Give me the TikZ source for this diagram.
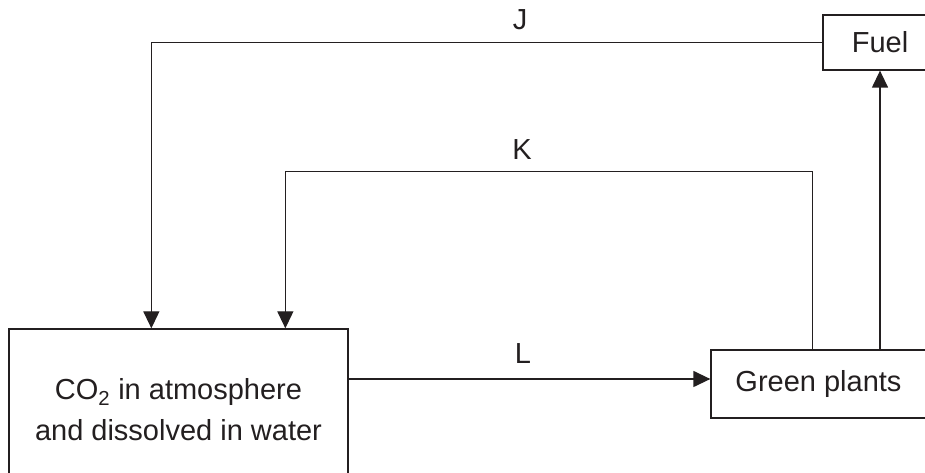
\documentclass[tikz,border=0pt]{standalone}
\usepackage{fontspec}
\setmainfont{Liberation Sans}
\usepackage{xcolor}
\definecolor{inkgray}{RGB}{35,31,32}
\usetikzlibrary{positioning}
\usetikzlibrary{arrows.meta}

\begin{document}
\begin{tikzpicture}[x=1pt,y=1pt,font=\fontsize{29}{41}\selectfont,
      stage style/.style={rectangle,draw=inkgray,line width=1.3pt,align=center,
        inner sep=0pt,text=inkgray},
      letter style/.style={inner sep=0pt,anchor=base,text=inkgray}
      ]
      \useasboundingbox (0,0) rectangle (925,473);
      \clip (0,0) rectangle (925,473);

      \node[stage style, minimum width=339, minimum height=162] (co2) at (178.5,63)
        {CO\textsubscript{2} in atmosphere \\ and dissolved in water};
      \node[stage style, minimum width=215, minimum height=68] (plants) at (818.5,89) {Green plants};
      \node[stage style, minimum width=114, minimum height=55] (fuel) at (880,430.5) {Fuel};

      \node[letter style] (J) at (520,443) {J};
      \node[letter style] (K) at (522,313) {K};
      \node[letter style] (L) at (523,109) {L};

      \draw[inkgray,line width=1.3pt,-{Triangle[length=17pt,width=16pt]}]
        (fuel.west) -| ([xshift=143]co2.north west);
      \draw[inkgray,line width=1.3pt,-{Triangle[length=17pt,width=16pt]}]
        ([xshift=102]plants.north west) -- ++(0,178) -| ([xshift=277]co2.north west);
      \draw[inkgray,line width=1.3pt,-{Triangle[length=17pt,width=16pt]}]
        (plants.north -| fuel.south) -- (fuel.south);
      \draw[inkgray,line width=1.3pt,-{Triangle[length=17pt,width=16pt]}]
        ([yshift=5]plants.west -| co2.east) -- ([yshift=5]plants.west);
    \end{tikzpicture}
\end{document}
